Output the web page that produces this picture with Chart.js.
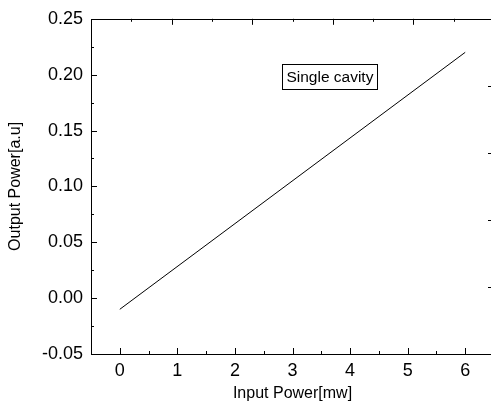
<!DOCTYPE html>
<html>
<head>
<meta charset="utf-8">
<script src="https://cdn.jsdelivr.net/npm/chart.js@4"></script>
<style>
  html, body { margin: 0; padding: 0; background: #fff; overflow: hidden; }
  #wrap { width: 496px; height: 410px; }
</style>
</head>
<body>
<div id="wrap"><canvas id="chart"></canvas></div>
<script>
// data
const inputPower = [0, 6];
const outputPower = [-0.01, 0.22];
const seriesName = 'Single cavity';

// tick marks of the frame
const xMajor = [0, 1, 2, 3, 4, 5, 6];
const xMinor = [-0.5, 0.5, 1.5, 2.5, 3.5, 4.5, 5.5, 6.5];
const yMajor = [-0.05, 0, 0.05, 0.1, 0.15, 0.2, 0.25];
const yMinor = [-0.025, 0.025, 0.075, 0.125, 0.175, 0.225];
// top and right axes use their own 0..10 scale
const sideMajor = [2, 4, 6, 8];
const sideMinor = [1, 3, 5, 7, 9];

const FONT = 'Liberation Sans, Arial, sans-serif';

// frame + inward ticks, like the original plot
const framePlugin = {
  id: 'frame',
  afterDatasetsDraw(chart) {
    const c = chart.ctx, a = chart.chartArea;
    const sx = chart.scales.x, sy = chart.scales.y;
    const sx2 = chart.scales.x2, sy2 = chart.scales.y2;
    c.save();
    c.strokeStyle = '#000';
    c.lineWidth = 1;
    c.strokeRect(Math.round(a.left) + 0.5, Math.round(a.top) + 0.5,
      Math.round(a.right - a.left), Math.round(a.bottom - a.top));
    c.beginPath();
    function vt(x, y, len) { x = Math.round(x) + 0.5; c.moveTo(x, y); c.lineTo(x, y + len); }
    function ht(x, y, len) { y = Math.round(y) + 0.5; c.moveTo(x, y); c.lineTo(x + len, y); }
    xMajor.forEach(v => vt(sx.getPixelForValue(v), a.bottom, -6));
    xMinor.forEach(v => vt(sx.getPixelForValue(v), a.bottom, -3));
    yMajor.forEach(v => ht(a.left, sy.getPixelForValue(v), 6));
    yMinor.forEach(v => ht(a.left, sy.getPixelForValue(v), 3));
    sideMajor.forEach(v => vt(sx2.getPixelForValue(v), a.top, 6));
    sideMinor.forEach(v => vt(sx2.getPixelForValue(v), a.top, 3));
    sideMajor.forEach(v => ht(a.right, sy2.getPixelForValue(v), -6));
    sideMinor.forEach(v => ht(a.right, sy2.getPixelForValue(v), -3));
    c.stroke();

    // boxed label
    c.font = '15.5px ' + FONT;
    c.fillStyle = '#000';
    c.textAlign = 'center';
    c.textBaseline = 'middle';
    const lx = sx.getPixelForValue(3.65), ly = sy.getPixelForValue(0.198);
    const w = c.measureText(seriesName).width + 8;
    c.strokeRect(Math.round(lx - w / 2) + 0.5, Math.round(ly - 13) + 0.5, Math.round(w), 25);
    c.fillText(seriesName, lx, ly + 1);
    c.restore();
  }
};

new Chart(document.getElementById('chart'), {
  type: 'line',
  data: {
    labels: inputPower,
    datasets: [{
      label: seriesName,
      data: inputPower.map((x, i) => ({ x: x, y: outputPower[i] })),
      borderColor: '#000',
      borderWidth: 1,
      pointRadius: 0,
      fill: false,
      tension: 0
    }]
  },
  options: {
    responsive: true,
    maintainAspectRatio: false,
    animation: false,
    layout: { padding: { left: 0, top: 16, right: 2, bottom: 0 } },
    plugins: { legend: { display: false }, tooltip: { enabled: false } },
    scales: {
      x: {
        type: 'linear',
        position: 'bottom',
        min: -0.5, max: 6.5,
        afterBuildTicks(s) { s.ticks = xMajor.map(v => ({ value: v })); },
        afterFit(s) { s.height = 56; },
        grid: { display: false, drawTicks: false },
        border: { display: false },
        ticks: { color: '#000', padding: 6, maxRotation: 0, font: { family: FONT, size: 18 } },
        title: { display: true, text: 'Input Power[mw]', color: '#000', padding: { top: 0, bottom: 7 }, font: { family: FONT, size: 16 } }
      },
      y: {
        type: 'linear',
        position: 'left',
        min: -0.05, max: 0.25,
        afterBuildTicks(s) { s.ticks = yMajor.map(v => ({ value: v })); },
        afterFit(s) { s.width = 91; },
        grid: { display: false, drawTicks: false },
        border: { display: false },
        ticks: { color: '#000', padding: 8, font: { family: FONT, size: 18 }, callback: v => v.toFixed(2) },
        title: { display: true, text: 'Output Power[a.u]', color: '#000', padding: { top: 6, bottom: 0 }, font: { family: FONT, size: 16 } }
      },
      x2: { type: 'linear', position: 'top', min: 0, max: 10, display: false },
      y2: { type: 'linear', position: 'right', min: 0, max: 10, display: false }
    }
  },
  plugins: [framePlugin]
});
</script>
</body>
</html>
